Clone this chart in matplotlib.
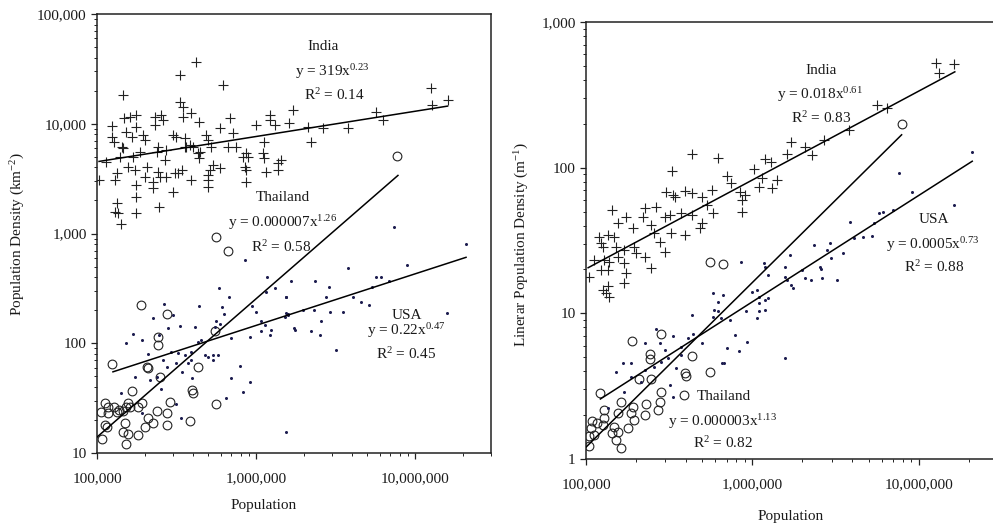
import matplotlib

matplotlib.use("Agg")
import matplotlib.pyplot as plt
import numpy as np
from matplotlib.ticker import FuncFormatter, LogLocator, NullFormatter

plt.rcParams["font.family"] = ["Liberation Serif", "DejaVu Serif"]
plt.rcParams["mathtext.fontset"] = "custom"
plt.rcParams["mathtext.rm"] = "Liberation Serif"
plt.rcParams["mathtext.it"] = "Liberation Serif:italic"

# ---- left panel: areal density (km^-2) ----
india_area_pop = [
    103e3, 114e3, 124e3, 124e3, 127e3, 130e3, 133e3, 130e3, 133e3, 136e3, 141e3, 145e3,
    143e3, 139e3, 146e3, 148e3, 153e3, 157e3, 161e3, 165e3, 169e3, 173e3, 176e3, 176e3,
    176e3, 177e3, 177e3, 186e3, 195e3, 200e3, 200e3, 205e3, 225e3, 225e3, 231e3, 231e3,
    237e3, 243e3, 243e3, 246e3, 248e3, 254e3, 260e3, 267e3, 273e3, 273e3, 301e3, 301e3,
    308e3, 316e3, 324e3, 331e3, 331e3, 340e3, 348e3, 348e3, 356e3, 356e3, 365e3, 383e3,
    392e3, 392e3, 402e3, 422e3, 432e3, 438e3, 438e3, 443e3, 487e3, 499e3, 499e3, 499e3,
    499e3, 511e3, 523e3, 536e3, 590e3, 590e3, 619e3, 665e3, 682e3, 716e3, 751e3, 827e3,
    847e3, 867e3, 867e3, 867e3, 889e3, 1.00e6, 1.10e6, 1.13e6, 1.13e6, 1.16e6, 1.22e6,
    1.22e6, 1.31e6, 1.37e6, 1.37e6, 1.44e6, 1.70e6, 1.62e6, 2.11e6, 2.22e6, 2.62e6,
    3.77e6, 5.66e6, 6.24e6, 1.25e7, 1.28e7, 1.60e7,
]
india_area_dens = [
    3070, 4450, 9540, 7520, 6870, 3070, 3530, 1580, 1880, 1530, 1220, 18300,
    6180, 5010, 5970, 11200, 8470, 4060, 11600, 7620, 5010, 3790, 2770, 2170,
    1530, 9400, 12000, 5570, 7890, 7110, 3300, 4060, 2970, 2580, 11600, 9750,
    5570, 6180, 3660, 1760, 3300, 12000, 10800, 4670, 5770, 3300, 2400, 7890,
    3530, 7620, 3530, 27800, 15900, 3790, 14300, 11600, 7360, 6180, 6180, 6400,
    3070, 12400, 6180, 36800, 5370, 10400, 4840, 5570, 7890, 7110, 3070, 2670,
    3410, 3790, 6180, 4210, 3930, 9080, 22500, 6180, 11200, 8190, 6180, 5010,
    4060, 2970, 5370, 3790, 5010, 9750, 5370, 6870, 4840, 3660, 12000,
    10800, 9750, 4350, 3790, 4670, 13300, 10100, 9400, 6870, 9080,
    9080, 12900, 10800, 21000, 14800, 16400,
]
thai_area_pop = [
    189e3, 277e3, 242e3, 242e3, 124e3, 207e3, 210e3, 432e3, 248e3, 550e3, 396e3, 402e3,
    165e3, 557e3, 386e3, 287e3, 191e3, 157e3, 153e3, 112e3, 118e3, 127e3, 137e3, 146e3,
    161e3, 181e3, 106e3, 118e3, 112e3, 115e3, 107e3, 150e3, 146e3, 157e3, 153e3, 181e3,
    200e3, 210e3, 237e3, 225e3, 274e3, 274e3, 133e3, 557e3, 670e3, 7.74e6,
]
thai_area_dens = [
    225, 186, 114, 95.7, 64.7, 61.2, 60, 60.9, 49.2, 130, 37.5, 35,
    37, 27.8, 19.6, 29.0, 28.4, 28.4, 26.1, 28.8, 26.4, 26.4, 24.6, 24.3,
    26.4, 26.4, 23.8, 23.0, 18.0, 17.4, 13.3, 18.6, 15.6, 14.8, 12.2, 14.6,
    17.4, 20.7, 24.3, 18.6, 23.0, 18.0, 23.8, 935, 697, 5120,
]
usa_area_pop = [
    855e3, 1.17e6, 582e3, 673e3, 1.16e6, 1.31e6, 1.55e6, 263e3, 301e3, 438e3, 614e3, 628e3,
    942e3, 1.00e6, 1.08e6, 1.14e6, 1.55e6, 1.58e6, 225e3, 280e3, 331e3, 411e3, 562e3, 590e3,
    550e3, 169e3, 191e3, 152e3, 245e3, 698e3, 910e3, 1.07e6, 1.22e6, 1.24e6, 210e3, 294e3,
    323e3, 356e3, 392e3, 432e3, 453e3, 475e3, 499e3, 536e3, 576e3, 536e3, 392e3, 374e3,
    316e3, 261e3, 274e3, 340e3, 237e3, 173e3, 215e3, 396e3, 788e3, 698e3, 910e3, 141e3,
    254e3, 316e3, 650e3, 827e3, 191e3, 336e3, 1.55e6,
    2.08e7, 8.95e6, 3.80e6, 1.66e6, 2.35e6, 2.89e6, 5.66e6, 6.09e6, 6.87e6, 5.35e6,
    1.55e6, 2.75e6, 4.05e6, 4.56e6, 5.15e6, 1.97e6, 2.33e6, 2.92e6, 3.50e6, 1.58e6,
    1.53e6, 1.59e7, 2.56e6, 1.74e6, 1.77e6, 2.22e6, 2.53e6, 3.18e6, 7.38e6,
]
usa_area_dens = [
    574, 405, 317, 262, 295, 321, 262, 228, 181, 217, 215, 185,
    218, 194, 159, 147, 190, 181, 169, 137, 144, 140, 161, 150,
    142, 121, 106, 101, 118, 111, 113, 128, 119, 132, 79.8, 83.8,
    80.9, 78.1, 83.8, 103, 107, 78.1, 75.5, 78.1, 78.1, 70.4, 70.4, 65.6,
    65.6, 70.4, 61.2, 55.1, 49.6, 48.9, 46.2, 47.9, 62.0, 47.9, 44.7, 35.5,
    38.0, 28.0, 31.5, 35.7, 23.0, 21.0, 15.4,
    802, 520, 482, 369, 369, 323, 404, 404, 372, 328,
    266, 266, 266, 239, 223, 201, 201, 194, 194, 185,
    175, 190, 161, 137, 132, 128, 119, 86.8, 1150,
]

# ---- right panel: linear density (m^-1) ----
india_lin_pop = [
    431e3, 619e3, 330e3, 304e3, 334e3, 344e3, 392e3, 431e3, 495e3, 570e3, 702e3, 746e3,
    846e3, 907e3, 865e3, 865e3, 1.02e6, 1.20e6, 1.29e6, 1.14e6, 1.09e6, 1.32e6, 1.41e6,
    144e3, 225e3, 264e3, 219e3, 297e3, 319e3, 375e3, 431e3, 531e3, 583e3, 495e3, 484e3,
    174e3, 155e3, 191e3, 247e3, 258e3, 326e3, 392e3, 277e3, 297e3, 120e3, 135e3, 148e3,
    123e3, 126e3, 151e3, 170e3, 195e3, 200e3, 225e3, 112e3, 129e3, 138e3, 155e3, 170e3,
    123e3, 135e3, 174e3, 247e3, 104e3, 126e3, 135e3, 132e3, 138e3, 170e3,
    1.27e7, 1.64e7, 1.33e7, 5.64e6, 6.49e6, 3.80e6, 2.68e6, 2.07e6, 1.72e6, 1.61e6, 2.28e6,
]
india_lin_dens = [
    125, 117, 95.4, 68.5, 65.0, 62.6, 69.6, 66.7, 62.6, 70.3, 88.2, 78.1,
    68.5, 65.0, 60.0, 49.9, 97.4, 114, 110, 84.5, 74.1, 72.2, 82.3,
    51.3, 52.6, 54.0, 46.1, 46.1, 47.4, 48.6, 47.4, 55.5, 48.6, 41.5, 38.4,
    46.1, 41.5, 38.4, 40.4, 35.4, 35.4, 34.5, 31.1, 26.5, 33.6, 34.5, 33.6,
    30.3, 28.7, 28.7, 27.2, 28.7, 25.8, 24.5, 23.3, 23.3, 22.6, 24.5, 22.1,
    19.9, 19.9, 18.8, 20.4, 17.9, 14.5, 15.3, 13.7, 13.0, 16.1,
    520, 512, 444, 269, 256, 181, 155, 139, 151, 125, 122,
]
thai_lin_pop = [
    189e3, 281e3, 241e3, 241e3, 431e3, 557e3, 392e3, 398e3, 209e3, 247e3, 122e3, 284e3,
    389e3, 277e3, 230e3, 162e3, 191e3, 187e3, 225e3, 155e3, 129e3, 109e3, 117e3, 126e3,
    107e3, 129e3, 148e3, 155e3, 144e3, 151e3, 104e3, 112e3, 104e3, 162e3, 178e3, 195e3,
    271e3, 557e3, 670e3, 7.92e6,
]
thai_lin_dens = [
    6.47, 7.18, 5.26, 4.84, 5.10, 3.98, 3.88, 3.72, 3.53, 3.53, 2.83, 2.90,
    2.75, 2.48, 2.39, 2.48, 2.29, 2.08, 2.01, 2.08, 2.17, 1.81, 1.76, 1.71,
    1.63, 1.90, 1.67, 1.54, 1.50, 1.35, 1.43, 1.46, 1.22, 1.19, 1.63, 1.86,
    2.17, 22.6, 21.7, 200,
]
usa_lin_pop = [
    264e3, 334e3, 225e3, 277e3, 297e3, 375e3, 441e3, 434e3, 583e3, 625e3, 736e3, 789e3,
    929e3, 1.09e6, 1.09e6, 834e3, 655e3, 702e3, 495e3, 411e3, 375e3, 311e3, 284e3, 187e3,
    166e3, 151e3, 187e3, 225e3, 258e3, 349e3, 319e3, 334e3, 214e3, 170e3, 135e3,
    857e3, 1.19e6, 1.06e6, 1.19e6, 1.06e6, 1.24e6, 1.24e6, 1.57e6, 1.57e6, 1.61e6, 1.72e6,
    1.76e6, 1.98e6, 2.07e6, 2.56e6, 2.62e6, 3.23e6, 1.57e6, 919e3, 679e3, 649e3, 592e3,
    578e3, 664e3,
    1.64e7, 5.78e6, 6.14e6, 7.02e6, 3.85e6, 5.39e6, 4.07e6, 4.62e6, 5.21e6, 2.94e6, 2.36e6,
    2.81e6, 3.49e6, 1.68e6, 2.97e6, 2.59e6, 2.26e6,
    7.57e6, 9.12e6, 2.10e7, 625e3, 1.17e6, 995e3, 1.09e6, 1.20e6,
]
usa_lin_dens = [
    7.77, 7.00, 6.23, 6.23, 5.61, 5.91, 7.18, 9.75, 9.50, 10.3, 9.01, 7.11,
    6.40, 10.3, 11.7, 5.55, 4.59, 5.76, 6.23, 6.74, 5.18, 4.92, 4.66, 4.54,
    4.54, 3.98, 3.68, 4.09, 4.31, 4.20, 3.23, 2.68, 3.40, 2.90, 2.23,
    22.6, 20.9, 14.5, 10.5, 9.25, 12.7, 18.3, 17.9, 20.9, 16.9, 15.7,
    14.9, 19.9, 17.4, 20.9, 17.4, 16.9, 4.92, 10.3, 4.54, 9.25, 10.5,
    13.7, 13.4,
    55.5, 48.6, 49.9, 51.3, 42.6, 41.5, 32.7, 33.3, 34.2, 30.6, 29.5,
    27.0, 26.1, 25.2, 23.9, 20.2, 16.9,
    92.5, 68.5, 129, 12.0, 22.1, 14.1, 13.0, 12.4,
]

# power-law fits: (coefficient, exponent, x start, x end)
fit_area = {
    "india": (319, 0.23, 1.03e5, 1.6e7),
    "thai": (0.000007, 1.26, 1.0e5, 7.8e6),
    "usa": (0.22, 0.47, 1.26e5, 2.09e7),
}
fit_lin = {
    "india": (0.018, 0.61, 1.03e5, 1.65e7),
    "thai": (0.0000027, 1.13, 1.0e5, 7.9e6),
    "usa": (0.0005, 0.73, 1.22e5, 2.1e7),
}

DOT_COLOR = "#1c1c4e"
TXT = "#1a1a1a"
FS = 11


def _comma(v, _pos):
    return f"{v:,.0f}"


def _style_axes(ax, ylim):
    ax.set_xscale("log")
    ax.set_yscale("log")
    ax.set_xlim(1e5, 3e7)
    ax.set_ylim(*ylim)
    for sp in ax.spines.values():
        sp.set_linewidth(1.1)
        sp.set_color("#222222")
    for axis in (ax.xaxis, ax.yaxis):
        axis.set_major_locator(LogLocator(base=10, numticks=12))
        axis.set_minor_locator(LogLocator(base=10, subs=np.arange(2, 10), numticks=12))
        axis.set_major_formatter(FuncFormatter(_comma))
        axis.set_minor_formatter(NullFormatter())
    ax.tick_params(which="both", direction="out", top=False, right=False,
                   colors="#222222", labelsize=FS, labelcolor=TXT)
    ax.tick_params(which="major", length=4.5, width=0.9)
    ax.tick_params(which="minor", length=2.5, width=0.7)
    ax.tick_params(axis="x", which="major", pad=9)
    ax.tick_params(axis="y", which="major", pad=3)


def _draw_fit(ax, params):
    a, b, x0, x1 = params
    xs = np.geomspace(x0, x1, 50)
    ax.plot(xs, a * xs ** b, color="black", lw=1.1, zorder=4)


def _scatter(ax, india, thai, usa):
    ax.plot(india[0], india[1], ls="none", marker="+", ms=7, mew=0.8,
            color="#222222", zorder=3)
    ax.plot(thai[0], thai[1], ls="none", marker="o", ms=6.3, mew=0.8,
            mfc="none", mec="#222222", zorder=3)
    ax.plot(usa[0], usa[1], ls="none", marker="o", ms=2.2, mew=0,
            color=DOT_COLOR, zorder=3)


def _label(ax, x, y, s):
    ax.text(x, y, s, transform=ax.transAxes, ha="center", va="center",
            fontsize=FS, color=TXT, zorder=5)


def main():
    fig = plt.figure(figsize=(9.93, 5.28), dpi=100)

    ax1 = fig.add_axes([97 / 993, 75 / 528, 394 / 993, 439 / 528])
    _style_axes(ax1, (10, 1e5))
    _scatter(ax1, (india_area_pop, india_area_dens), (thai_area_pop, thai_area_dens),
             (usa_area_pop, usa_area_dens))
    for key in ("india", "thai", "usa"):
        _draw_fit(ax1, fit_area[key])
    _label(ax1, 0.574, 0.927, "India")
    _label(ax1, 0.597, 0.868, r"y = 319x$^{0.23}$")
    _label(ax1, 0.602, 0.815, r"R$^{2}$ = 0.14")
    _label(ax1, 0.472, 0.583, "Thailand")
    _label(ax1, 0.472, 0.526, r"y = 0.000007x$^{1.26}$")
    _label(ax1, 0.467, 0.469, r"R$^{2}$ = 0.58")
    _label(ax1, 0.786, 0.314, "USA")
    _label(ax1, 0.785, 0.278, r"y = 0.22x$^{0.47}$")
    _label(ax1, 0.785, 0.2255, r"R$^{2}$ = 0.45")
    ax1.set_xlabel("Population", fontsize=FS, color=TXT)
    ax1.xaxis.set_label_coords(0.422, -0.105)
    ax1.set_ylabel(r"Population Density (km$^{-2}$)", fontsize=FS, color=TXT)
    ax1.yaxis.set_label_coords(-0.178, 0.5)

    # right spine of this panel sits just past the picture's edge
    ax2 = fig.add_axes([586 / 993, 69 / 528, 412 / 993, 437 / 528])
    _style_axes(ax2, (1, 1000))
    _scatter(ax2, (india_lin_pop, india_lin_dens), (thai_lin_pop, thai_lin_dens),
             (usa_lin_pop, usa_lin_dens))
    for key in ("india", "thai", "usa"):
        _draw_fit(ax2, fit_lin[key])
    _label(ax2, 0.570, 0.888, "India")
    _label(ax2, 0.567, 0.833, r"y = 0.018x$^{0.61}$")
    _label(ax2, 0.572, 0.780, r"R$^{2}$ = 0.83")
    _label(ax2, 0.844, 0.547, "USA")
    _label(ax2, 0.841, 0.490, r"y = 0.0005x$^{0.73}$")
    _label(ax2, 0.844, 0.439, r"R$^{2}$ = 0.88")
    _label(ax2, 0.335, 0.144, "Thailand")
    _label(ax2, 0.332, 0.085, r"y = 0.000003x$^{1.13}$")
    _label(ax2, 0.332, 0.037, r"R$^{2}$ = 0.82")
    ax2.set_xlabel("Population", fontsize=FS, color=TXT)
    ax2.xaxis.set_label_coords(0.497, -0.117)
    ax2.set_ylabel(r"Linerar Population Density (m$^{-1}$)", fontsize=FS, color=TXT)
    ax2.yaxis.set_label_coords(-0.134, 0.49)

    fig.savefig("out.png", dpi=100)


if __name__ == "__main__":
    main()
